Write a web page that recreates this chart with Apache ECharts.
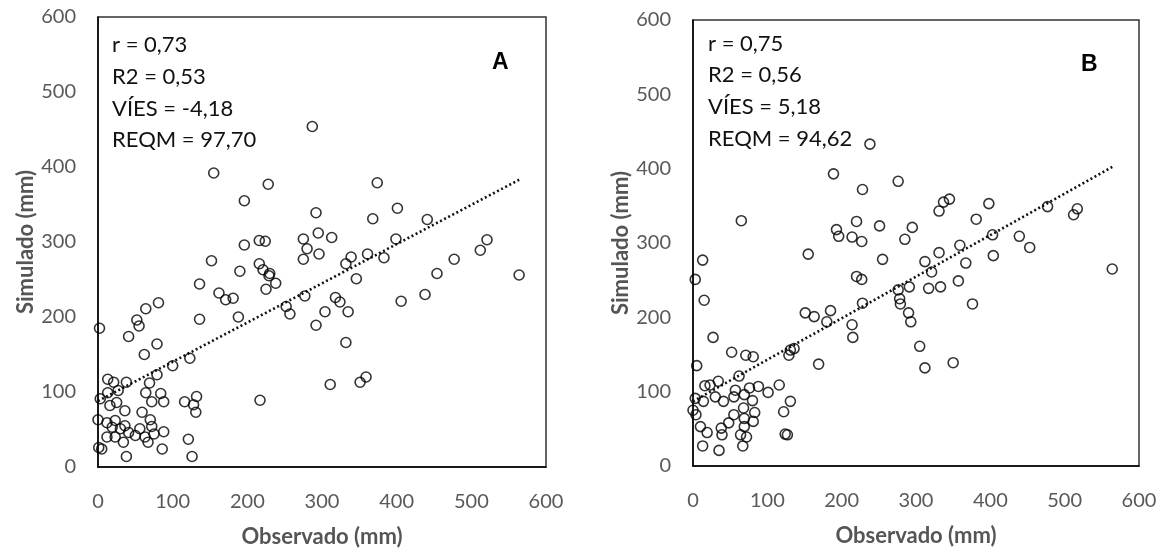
<!DOCTYPE html>
<html>
<head>
<meta charset="utf-8">
<script src="https://cdn.jsdelivr.net/npm/echarts/dist/echarts.min.js"></script>
<style>
  html, body { margin: 0; padding: 0; background: #ffffff; }
  #chart { width: 1164px; height: 553px; }
</style>
</head>
<body>
<div id="chart"></div>
<script>
// Panel A: observed vs simulated (mm)
const obsA = [2, 41, 52, 55, 64, 81, 62, 79, 100, 123, 136, 136, 152, 162, 171, 181, 188, 190, 196, 216,
  224, 216, 221, 229, 238, 225, 230, 252, 257, 217, 275, 275,
  13, 21, 38, 69, 79, 3, 13, 27, 16, 25, 36, 64, 72, 84, 88, 116, 128, 132, 131,
  0, 12, 23, 19, 30, 36, 41, 59, 70, 72, 56, 50, 63, 67, 75, 88, 12, 23, 5, 1, 34, 38, 86, 121, 126,
  155, 196, 228, 287, 374, 292, 368, 401, 441, 295, 313, 399, 521, 512, 280, 296, 339, 332, 361, 383,
  346, 454, 477, 564, 406, 438, 277, 318, 324, 335, 304, 292, 332, 311, 351, 359];
const simA = [185, 174, 196, 188, 211, 219, 150, 164, 135, 145, 244, 197, 275, 232, 223, 225, 200, 261, 296, 302,
  301, 271, 263, 255, 245, 237, 258, 214, 204, 89, 304, 277,
  117, 113, 113, 112, 123, 91, 99, 102, 82, 86, 75, 99, 87, 98, 87, 87, 83, 94, 73,
  63, 59, 62, 53, 51, 55, 46, 73, 63, 54, 51, 42, 40, 33, 44, 47, 40, 40, 24, 26, 33, 14, 24, 37, 14,
  392, 355, 377, 454, 379, 339, 331, 345, 330, 312, 306, 304, 303, 289, 291, 284, 280, 271, 284, 279,
  251, 258, 277, 256, 221, 230, 228, 226, 220, 207, 207, 189, 166, 110, 113, 120];

// Panel B: observed vs simulated (mm)
const obsB = [238, 189, 228, 65, 193, 196, 220, 251, 214, 227, 155, 13, 3, 15, 27, 5, 52, 71, 81, 62,
  151, 163, 185, 180, 169, 131, 136, 129, 214, 215, 220, 227, 228, 255,
  116, 101, 88, 76, 57, 34, 23, 16, 30, 3, 14, 41, 55, 69, 80, 0, 4, 10, 19, 13, 35, 38, 39, 48, 55,
  68, 69, 81, 83, 64, 72, 67, 69, 122, 131, 124, 127,
  276, 345, 337, 331, 398, 381, 295, 285, 477, 517, 512, 403, 439, 359, 453, 312, 331, 321, 367, 404,
  357, 333, 317, 291, 276, 278, 279, 376, 290, 293, 305, 312, 350, 564];
const simB = [433, 393, 372, 330, 318, 309, 329, 323, 308, 302, 285, 277, 251, 223, 173, 135, 153, 149, 147, 121,
  206, 201, 209, 194, 137, 156, 158, 149, 190, 173, 255, 251, 219, 278,
  109, 99, 107, 105, 102, 114, 109, 108, 93, 91, 87, 87, 93, 96, 88, 75, 69, 53, 45, 27, 21, 51, 42, 58, 69,
  78, 64, 60, 72, 42, 39, 27, 53, 73, 87, 43, 42,
  383, 359, 355, 343, 353, 332, 321, 305, 349, 346, 338, 311, 309, 297, 294, 275, 287, 261, 273, 283,
  249, 241, 239, 241, 237, 225, 218, 218, 206, 194, 161, 132, 139, 265];

// Linear trend lines [intercept, slope]
const trendA = [88, 0.523];
const trendB = [87, 0.559];

// Fit statistics shown in each panel
const statsA = ['r = 0,73', 'R2 = 0,53', 'VÍES = -4,18', 'REQM = 97,70'];
const statsB = ['r = 0,75', 'R2 = 0,56', 'VÍES = 5,18', 'REQM = 94,62'];
const panelTags = ['A', 'B'];

const axisMin = 0, axisMax = 600, axisStep = 100;
const xTitle = 'Observado (mm)';
const yTitle = 'Simulado (mm)';

const pairs = (xs, ys) => xs.map((x, i) => [x, ys[i]]);
const trendPoints = (xs, t) => {
  const lo = Math.min(...xs), hi = Math.max(...xs);
  return [[lo, t[0] + t[1] * lo], [hi, t[0] + t[1] * hi]];
};

const FONT = 'Lato, "Open Sans", sans-serif';
const GREY = '#595959';

const grids = [
  { left: 98, top: 17, width: 448, height: 451 },
  { left: 693, top: 20, width: 446, height: 446 }
];

function xAxisFor(i) {
  return {
    type: 'value', gridIndex: i, min: axisMin, max: axisMax, interval: axisStep,
    name: xTitle, nameLocation: 'middle', nameGap: 59,
    nameTextStyle: { fontFamily: FONT, fontWeight: 'bold', fontSize: 22, color: '#555' },
    axisLine: { show: true, onZero: false, lineStyle: { color: '#000', width: 1.5 } },
    axisTick: { show: false },
    splitLine: { show: false },
    axisLabel: { margin: 25, fontFamily: FONT, fontSize: 20, color: GREY }
  };
}
function yAxisFor(i) {
  return {
    type: 'value', gridIndex: i, min: axisMin, max: axisMax, interval: axisStep,
    name: yTitle, nameLocation: 'middle', nameGap: 60,
    nameTextStyle: { fontFamily: FONT, fontWeight: 'bold', fontSize: 22, color: '#555' },
    axisLine: { show: true, onZero: false, lineStyle: { color: '#000', width: 1.5 } },
    axisTick: { show: false },
    splitLine: { show: false },
    axisLabel: { margin: 22, fontFamily: FONT, fontSize: 20, color: GREY }
  };
}

function scatterSeries(i, xs, ys) {
  return {
    type: 'scatter', xAxisIndex: i, yAxisIndex: i,
    data: pairs(xs, ys),
    symbol: 'circle', symbolSize: 10,
    itemStyle: { color: 'rgba(255,255,255,0)', borderColor: '#000', borderWidth: 1.6 },
    emphasis: { disabled: true }, silent: true, z: 3
  };
}
function trendSeries(i, xs, t) {
  return {
    type: 'line', xAxisIndex: i, yAxisIndex: i,
    data: trendPoints(xs, t),
    showSymbol: false, symbol: 'none',
    lineStyle: { color: '#111', width: 2.6, type: [2, 2.6] },
    emphasis: { disabled: true }, silent: true, z: 2
  };
}

function statTexts(lines, left, tops) {
  return lines.map((s, k) => ({
    type: 'text', left: left, top: tops[k],
    style: { text: s, font: '22px ' + FONT, fill: '#111' }
  }));
}

const chart = echarts.init(document.getElementById('chart'), null, { renderer: 'canvas' });
chart.setOption({
  animation: false,
  backgroundColor: '#ffffff',
  grid: grids.map(g => Object.assign({ show: true, borderColor: '#333', borderWidth: 1.5, backgroundColor: 'transparent' }, g)),
  xAxis: [xAxisFor(0), xAxisFor(1)],
  yAxis: [yAxisFor(0), yAxisFor(1)],
  series: [
    trendSeries(0, obsA, trendA),
    scatterSeries(0, obsA, simA),
    trendSeries(1, obsB, trendB),
    scatterSeries(1, obsB, simB)
  ],
  graphic: [
    ...statTexts(statsA, 112, [34, 66, 98, 129]),
    ...statTexts(statsB, 708, [33, 64, 96, 128]),
    { type: 'text', left: 492, top: 51, style: { text: panelTags[0], font: 'bold 23px "Liberation Sans", Arial, sans-serif', fill: '#000' } },
    { type: 'text', left: 1081, top: 53, style: { text: panelTags[1], font: 'bold 23px "Liberation Sans", Arial, sans-serif', fill: '#000' } }
  ]
});
</script>
</body>
</html>
